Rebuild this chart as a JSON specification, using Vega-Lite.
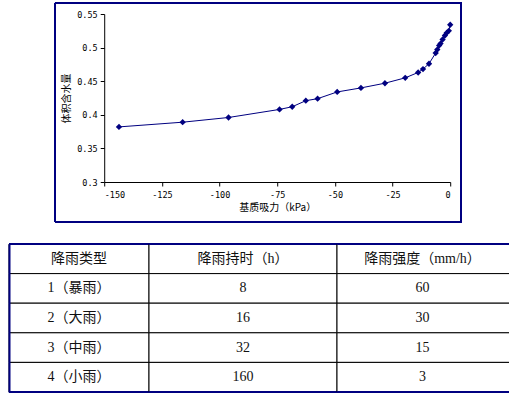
{
  "$schema": "https://vega.github.io/schema/vega-lite/v6.json",
  "padding": {"left": 8, "top": 2, "right": -47.5, "bottom": 0},
  "background": "white",
  "center": true,
  "spacing": 20,
  "config": {
    "view": {"stroke": null},
    "axis": {
      "grid": false,
      "domainColor": "#000000",
      "tickColor": "#000000",
      "labelColor": "#000000",
      "labelFont": "DejaVu Sans Mono",
      "labelFontSize": 8.5,
      "labelOverlap": false,
      "titleFont": "Noto Sans CJK SC",
      "titleFontSize": 10,
      "titleFontWeight": "normal",
      "titleColor": "#000000",
      "tickSize": 4
    }
  },
  "datasets": {
    "curve": [
      {"suction": -143.6, "theta": 0.382},
      {"suction": -116.0, "theta": 0.389},
      {"suction": -96.1, "theta": 0.396},
      {"suction": -74.0, "theta": 0.408},
      {"suction": -68.5, "theta": 0.412},
      {"suction": -62.6, "theta": 0.421},
      {"suction": -57.5, "theta": 0.424},
      {"suction": -49.0, "theta": 0.434},
      {"suction": -38.7, "theta": 0.440},
      {"suction": -28.3, "theta": 0.447},
      {"suction": -19.5, "theta": 0.455},
      {"suction": -13.9, "theta": 0.463},
      {"suction": -11.8, "theta": 0.468},
      {"suction": -9.2, "theta": 0.476},
      {"suction": -6.3, "theta": 0.492},
      {"suction": -5.6, "theta": 0.497},
      {"suction": -4.8, "theta": 0.503},
      {"suction": -4.2, "theta": 0.506},
      {"suction": -3.3, "theta": 0.512},
      {"suction": -2.3, "theta": 0.518},
      {"suction": -1.5, "theta": 0.522},
      {"suction": -0.6, "theta": 0.525},
      {"suction": 0, "theta": 0.534}
    ],
    "cells": [
      {"row": 0, "col": 0, "text": "降雨类型"},
      {"row": 0, "col": 1, "text": "降雨持时（h）"},
      {"row": 0, "col": 2, "text": "降雨强度（mm/h）"},
      {"row": 1, "col": 0, "text": "1（暴雨）"},
      {"row": 1, "col": 1, "text": "8"},
      {"row": 1, "col": 2, "text": "60"},
      {"row": 2, "col": 0, "text": "2（大雨）"},
      {"row": 2, "col": 1, "text": "16"},
      {"row": 2, "col": 2, "text": "30"},
      {"row": 3, "col": 0, "text": "3（中雨）"},
      {"row": 3, "col": 1, "text": "32"},
      {"row": 3, "col": 2, "text": "15"},
      {"row": 4, "col": 0, "text": "4（小雨）"},
      {"row": 4, "col": 1, "text": "160"},
      {"row": 4, "col": 2, "text": "3"}
    ]
  },
  "vconcat": [
    {
      "width": 346,
      "height": 168,
      "data": {"name": "curve"},
      "layer": [
        {
          "mark": {
            "type": "line",
            "color": "#000080",
            "strokeWidth": 1,
            "point": {"shape": "diamond", "size": 40, "filled": true, "color": "#000080", "opacity": 1}
          },
          "encoding": {
            "x": {
              "field": "suction",
              "type": "quantitative",
              "scale": {"domain": [-150, 0], "nice": false, "zero": false},
              "axis": {
                "title": "基质吸力（kPa）",
                "values": [-150, -125, -100, -75, -50, -25, 0],
                "labelExpr": "'' + datum.value",
                "labelPadding": 4,
                "titlePadding": 4
              }
            },
            "y": {
              "field": "theta",
              "type": "quantitative",
              "scale": {"domain": [0.3, 0.55], "nice": false, "zero": false},
              "axis": {
                "title": "体积含水量",
                "tickCount": 6,
                "format": ".2~f",
                "labelOverlap": false,
                "labelBound": false,
                "labelFlush": false,
                "labelPadding": 3,
                "titlePadding": 5
              }
            }
          }
        },
        {
          "mark": {"type": "rect", "fill": null, "stroke": "#000080", "strokeWidth": 1, "clip": false},
          "encoding": {
            "x": {"datum": -171.2, "type": "quantitative"},
            "x2": {"datum": 4.8},
            "y": {"datum": 0.5664, "type": "quantitative"},
            "y2": {"datum": 0.2405}
          }
        }
      ]
    },
    {
      "hconcat": [
        {
          "width": 140,
          "height": 148,
          "data": {"name": "cells"},
          "transform": [{"filter": "datum.col == 0"}],
          "layer": [
            {
              "mark": {"type": "rect", "fill": "white", "stroke": "#000000", "strokeWidth": 1},
              "encoding": {
                "y": {"field": "row", "type": "ordinal", "scale": {"paddingInner": 0, "paddingOuter": 0},
                  "axis": {"orient": "left", "labels": false, "ticks": false, "domain": true, "domainColor": "#000080", "domainWidth": 2, "title": null}}
              }
            },
            {
              "mark": {"type": "rule", "color": "#000080", "strokeWidth": 2},
              "encoding": {"y": {"datum": 0, "type": "ordinal", "bandPosition": 0}}
            },
            {
              "mark": {"type": "rule", "color": "#000080", "strokeWidth": 2},
              "encoding": {"y": {"datum": 4, "type": "ordinal", "bandPosition": 1}}
            },
            {
              "mark": {"type": "text", "font": "Liberation Serif, Noto Sans CJK SC", "fontSize": 14, "color": "#111111"},
              "encoding": {
                "y": {"field": "row", "type": "ordinal"},
                "text": {"field": "text"}
              }
            }
          ]
        },
        {
          "width": 188,
          "height": 148,
          "data": {"name": "cells"},
          "transform": [{"filter": "datum.col == 1"}],
          "layer": [
            {
              "mark": {"type": "rect", "fill": "white", "stroke": "#000000", "strokeWidth": 1},
              "encoding": {
                "y": {"field": "row", "type": "ordinal", "scale": {"paddingInner": 0, "paddingOuter": 0}, "axis": null}
              }
            },
            {
              "mark": {"type": "rule", "color": "#000080", "strokeWidth": 2},
              "encoding": {"y": {"datum": 0, "type": "ordinal", "bandPosition": 0}}
            },
            {
              "mark": {"type": "rule", "color": "#000080", "strokeWidth": 2},
              "encoding": {"y": {"datum": 4, "type": "ordinal", "bandPosition": 1}}
            },
            {
              "mark": {"type": "text", "font": "Liberation Serif, Noto Sans CJK SC", "fontSize": 14, "color": "#111111"},
              "encoding": {
                "y": {"field": "row", "type": "ordinal"},
                "text": {"field": "text"}
              }
            }
          ]
        },
        {
          "width": 219,
          "height": 148,
          "data": {"name": "cells"},
          "transform": [{"filter": "datum.col == 2"}],
          "layer": [
            {
              "mark": {"type": "rect", "fill": "white", "stroke": "#000000", "strokeWidth": 1},
              "encoding": {
                "y": {"field": "row", "type": "ordinal", "scale": {"paddingInner": 0, "paddingOuter": 0}, "axis": null}
              }
            },
            {
              "mark": {"type": "rule", "color": "#000080", "strokeWidth": 2},
              "encoding": {"y": {"datum": 0, "type": "ordinal", "bandPosition": 0}}
            },
            {
              "mark": {"type": "rule", "color": "#000080", "strokeWidth": 2},
              "encoding": {"y": {"datum": 4, "type": "ordinal", "bandPosition": 1}}
            },
            {
              "mark": {"type": "text", "font": "Liberation Serif, Noto Sans CJK SC", "fontSize": 14, "color": "#111111", "align": "center", "dx": -24},
              "encoding": {
                "y": {"field": "row", "type": "ordinal"},
                "text": {"field": "text"}
              }
            }
          ]
        }
      ],
      "spacing": 0,
      "bounds": "flush"
    }
  ]
}
